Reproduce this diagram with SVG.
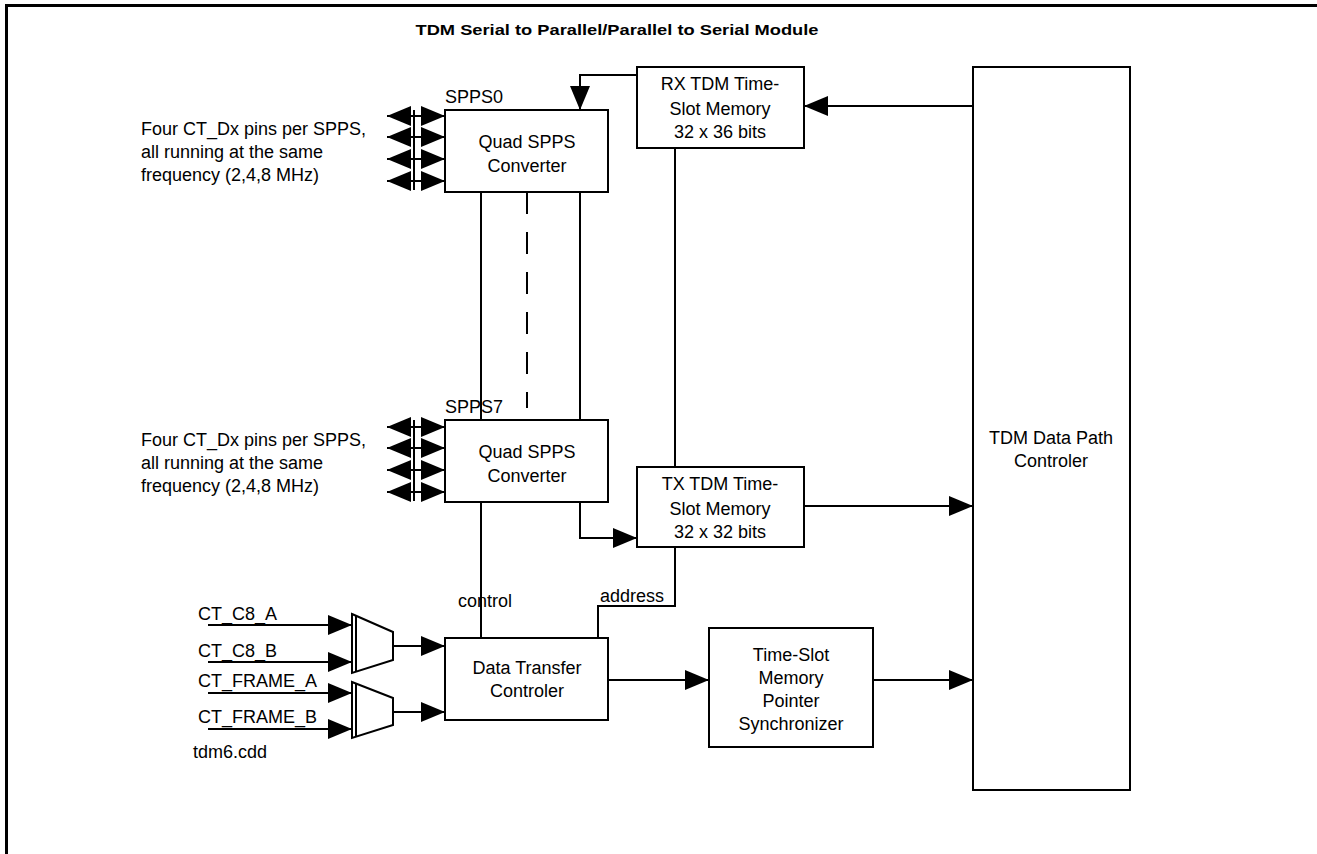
<svg xmlns="http://www.w3.org/2000/svg" width="1317" height="854" viewBox="0 0 1317 854">
<style>
text{font-family:"Liberation Sans",Arial,sans-serif;font-size:18px;fill:#000}
.c{text-anchor:middle}
.title{font-weight:bold;font-size:15px}
.box{fill:#fff;stroke:#000;stroke-width:2}
.ln{fill:none;stroke:#000;stroke-width:2}
.arr{marker-end:url(#ah)}
.bi{fill:none;stroke:#000;stroke-width:2;marker-start:url(#ahs);marker-end:url(#ah)}
</style>
<defs>
<marker id="ah" markerUnits="userSpaceOnUse" markerWidth="24" markerHeight="20" refX="24" refY="10" orient="auto"><path d="M0,0 L24,10 L0,20 z" fill="#000"/></marker>
<marker id="ahs" markerUnits="userSpaceOnUse" markerWidth="24" markerHeight="20" refX="24" refY="10" orient="auto-start-reverse"><path d="M0,0 L24,10 L0,20 z" fill="#000"/></marker>
</defs>
<rect width="1317" height="854" fill="#fff"/>
<g id="frame">
<line x1="5" y1="5.5" x2="1317" y2="5.5" stroke="#000" stroke-width="3"/>
<line x1="6.5" y1="4" x2="6.5" y2="854" stroke="#000" stroke-width="3"/>
<text class="c title" x="617" y="35" textLength="403" lengthAdjust="spacingAndGlyphs">TDM Serial to Parallel/Parallel to Serial Module</text>
</g>
<g id="connectors">
<polyline class="ln arr" points="637,75 580,75 580,110"/>
<line class="ln arr" x1="973" y1="106" x2="804" y2="106"/>
<line class="ln" x1="675" y1="148" x2="675" y2="467"/>
<line class="ln" x1="481" y1="192" x2="481" y2="420"/>
<line class="ln" x1="580" y1="192" x2="580" y2="420"/>
<line class="ln" x1="527" y1="192" x2="527" y2="408" stroke-dasharray="22 18"/>
<polyline class="ln arr" points="580,502 580,538 637,538"/>
<line class="ln arr" x1="804" y1="506" x2="973" y2="506"/>
<line class="ln" x1="481" y1="502" x2="481" y2="638"/>
<polyline class="ln" points="675,547 675,606 598,606 598,638"/>
<line class="ln arr" x1="608" y1="680" x2="709" y2="680"/>
<line class="ln arr" x1="873" y1="680" x2="973" y2="680"/>
<line class="ln arr" x1="208" y1="625" x2="352" y2="625"/>
<line class="ln arr" x1="208" y1="662" x2="352" y2="662"/>
<line class="ln arr" x1="208" y1="693" x2="352" y2="693"/>
<line class="ln arr" x1="208" y1="729" x2="352" y2="729"/>
<line class="ln arr" x1="393" y1="646" x2="445" y2="646"/>
<line class="ln arr" x1="393" y1="712" x2="445" y2="712"/>
<line class="bi" x1="387" y1="116" x2="445" y2="116"/>
<line class="bi" x1="387" y1="137" x2="445" y2="137"/>
<line class="bi" x1="387" y1="159" x2="445" y2="159"/>
<line class="bi" x1="387" y1="181" x2="445" y2="181"/>
<line class="ln" x1="414" y1="110" x2="414" y2="190"/>
<line class="bi" x1="387" y1="427" x2="445" y2="427"/>
<line class="bi" x1="387" y1="448" x2="445" y2="448"/>
<line class="bi" x1="387" y1="470" x2="445" y2="470"/>
<line class="bi" x1="387" y1="492" x2="445" y2="492"/>
<line class="ln" x1="414" y1="420" x2="414" y2="501"/>
<text x="458" y="607">control</text>
<text x="600" y="602">address</text>
</g>
<g id="pins0">
<text x="141" y="135">Four CT_Dx pins per SPPS,</text>
<text x="141" y="158">all running at the same</text>
<text x="141" y="181">frequency (2,4,8 MHz)</text>
</g>
<g id="pins7">
<text x="141" y="446">Four CT_Dx pins per SPPS,</text>
<text x="141" y="469">all running at the same</text>
<text x="141" y="492">frequency (2,4,8 MHz)</text>
</g>
<g id="spps0">
<text x="445" y="103">SPPS0</text>
<rect class="box" x="445" y="110" width="163" height="82"/>
<text class="c" x="527" y="148">Quad SPPS</text>
<text class="c" x="527" y="172">Converter</text>
</g>
<g id="spps7">
<text x="445" y="413">SPPS7</text>
<rect class="box" x="445" y="420" width="163" height="82"/>
<text class="c" x="527" y="458">Quad SPPS</text>
<text class="c" x="527" y="482">Converter</text>
</g>
<g id="rx">
<rect class="box" x="637" y="67" width="167" height="81"/>
<text class="c" x="720" y="90">RX TDM Time-</text>
<text class="c" x="720" y="115">Slot Memory</text>
<text class="c" x="720" y="138">32 x 36 bits</text>
</g>
<g id="tx">
<rect class="box" x="637" y="467" width="167" height="80"/>
<text class="c" x="720" y="490">TX TDM Time-</text>
<text class="c" x="720" y="515">Slot Memory</text>
<text class="c" x="720" y="538">32 x 32 bits</text>
</g>
<g id="ctrl">
<rect class="box" x="973" y="67" width="157" height="723"/>
<text class="c" x="1051" y="444">TDM Data Path</text>
<text class="c" x="1051" y="467">Controler</text>
</g>
<g id="dtc">
<rect class="box" x="445" y="638" width="163" height="82"/>
<text class="c" x="527" y="674">Data Transfer</text>
<text class="c" x="527" y="697">Controler</text>
</g>
<g id="sync">
<rect class="box" x="709" y="628" width="164" height="119"/>
<text class="c" x="791" y="661">Time-Slot</text>
<text class="c" x="791" y="684">Memory</text>
<text class="c" x="791" y="707">Pointer</text>
<text class="c" x="791" y="730">Synchronizer</text>
</g>
<g id="mux1">
<polygon class="box" points="352,614 393,632 393,660 352,673"/>
<line class="ln" x1="356" y1="616" x2="356" y2="671"/>
</g>
<g id="mux2">
<polygon class="box" points="352,682 393,698 393,725 352,738"/>
<line class="ln" x1="356" y1="684" x2="356" y2="736"/>
</g>
<g id="labels">
<text x="198" y="620">CT_C8_A</text>
<text x="198" y="657">CT_C8_B</text>
<text x="198" y="687">CT_FRAME_A</text>
<text x="198" y="723">CT_FRAME_B</text>
<text x="193" y="758">tdm6.cdd</text>
</g>
</svg>
